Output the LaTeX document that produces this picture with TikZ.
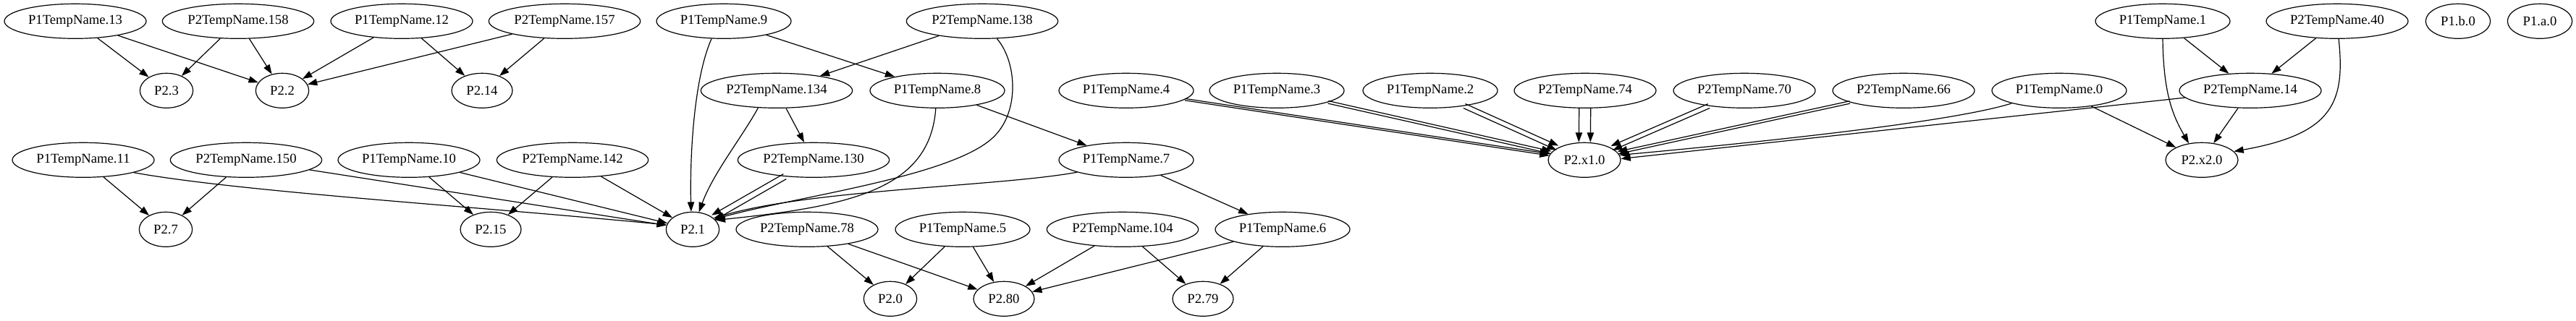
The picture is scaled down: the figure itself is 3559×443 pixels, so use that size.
\documentclass[tikz,border=0pt]{standalone}
\usepackage{fontspec}
\setmainfont{Liberation Serif}
\usetikzlibrary{arrows.meta,shapes.geometric}
\begin{document}
\begin{tikzpicture}[x=0.75pt,y=-0.75pt,
  nd/.style={ellipse,draw,line width=0.9pt,inner sep=0pt,minimum height=36pt,font=\fontsize{14pt}{16pt}\selectfont},
  wA/.style={nd,minimum width=139.5pt},
  wB/.style={nd,minimum width=147pt},
  wC/.style={nd,minimum width=157pt},
  wS/.style={nd,minimum width=55pt},
  wM/.style={nd,minimum width=63pt},
  wX/.style={nd,minimum width=75pt},
  wP/.style={nd,minimum width=67pt},
  arr/.style={draw,line width=0.9pt,-{Triangle[length=10pt,width=7pt]}}]
\useasboundingbox (0,0) rectangle (3559,443);
% row 1
\node[wB] (a13) at (104,29.3) {P1TempName.13};
\node[wC] (b158) at (329,29.3) {P2TempName.158};
\node[wB] (a12) at (555,29.3) {P1TempName.12};
\node[wC] (b157) at (780,29.3) {P2TempName.157};
\node[wA] (a9) at (1000,29.3) {P1TempName.9};
\node[wC] (b138) at (1357,29.3) {P2TempName.138};
\node[wA] (a1) at (2988,29.3) {P1TempName.1};
\node[wB] (b40) at (3229,29.3) {P2TempName.40};
\node[wP] (p1b) at (3396,29.3) {P1.b.0};
\node[wP] (p1a) at (3509,29.3) {P1.a.0};
% row 2
\node[wS] (p23) at (230,125.3) {P2.3};
\node[wS] (p22) at (390,125.3) {P2.2};
\node[wM] (p214) at (666,125.3) {P2.14};
\node[wC] (b134) at (1073,125.3) {P2TempName.134};
\node[wA] (a8) at (1295,125.3) {P1TempName.8};
\node[wA] (a4) at (1556,125.3) {P1TempName.4};
\node[wA] (a3) at (1764,125.3) {P1TempName.3};
\node[wA] (a2) at (1976,125.3) {P1TempName.2};
\node[wB] (b74) at (2190,125.3) {P2TempName.74};
\node[wB] (b70) at (2410,125.3) {P2TempName.70};
\node[wB] (b66) at (2630,125.3) {P2TempName.66};
\node[wA] (a0) at (2845,125.3) {P1TempName.0};
\node[wB] (b14) at (3109,125.3) {P2TempName.14};
% row 3
\node[wB] (a11) at (115,221.3) {P1TempName.11};
\node[wC] (b150) at (340,221.3) {P2TempName.150};
\node[wB] (a10) at (565,221.3) {P1TempName.10};
\node[wC] (b142) at (791,221.3) {P2TempName.142};
\node[wC] (b130) at (1124,221.3) {P2TempName.130};
\node[wA] (a7) at (1556,221.3) {P1TempName.7};
\node[wX] (px1) at (2189,221.3) {P2.x1.0};
\node[wX] (px2) at (3042,221.3) {P2.x2.0};
% row 4
\node[wS] (p27) at (229,317.3) {P2.7};
\node[wM] (p215) at (678,317.3) {P2.15};
\node[wS] (p21) at (957,317.3) {P2.1};
\node[wB] (b78) at (1115,317.3) {P2TempName.78};
\node[wA] (a5) at (1330,317.3) {P1TempName.5};
\node[wC] (b104) at (1551,317.3) {P2TempName.104};
\node[wA] (a6) at (1772,317.3) {P1TempName.6};
% row 5
\node[wS] (p20) at (1230,413.3) {P2.0};
\node[wM] (p280) at (1387,413.3) {P2.80};
\node[wM] (p279) at (1662,413.3) {P2.79};
% straight edges
\draw[arr] (a13) -- (p23);
\draw[arr] (a13) -- (p22);
\draw[arr] (b158) -- (p23);
\draw[arr] (b158) -- (p22);
\draw[arr] (a12) -- (p22);
\draw[arr] (a12) -- (p214);
\draw[arr] (b157) -- (p22);
\draw[arr] (b157) -- (p214);
\draw[arr] (a11) -- (p27);
\draw[arr] (b150) -- (p27);
\draw[arr] (b150) -- (p21);
\draw[arr] (a10) -- (p215);
\draw[arr] (a10) -- (p21);
\draw[arr] (b142) -- (p215);
\draw[arr] (b142) -- (p21);
\draw[arr] (a9) -- (a8);
\draw[arr] (b138) -- (b134);
\draw[arr] (b134) -- (b130);
\draw[arr] (a8) -- (a7);
\draw[arr] (a7) -- (a6);
\draw[arr] (b78) -- (p20);
\draw[arr] (b78) -- (p280);
\draw[arr] (a5) -- (p20);
\draw[arr] (a5) -- (p280);
\draw[arr] (b104) -- (p280);
\draw[arr] (b104) -- (p279);
\draw[arr] (a6) -- (p280);
\draw[arr] (a6) -- (p279);
\draw[arr] (a1) -- (b14);
\draw[arr] (b40) -- (b14);
\draw[arr] (b14) -- (px2);
\draw[arr] (a0) -- (px2);
\draw[arr] (b14) -- (px1.2);
% curved edges
\draw[arr] (a11.-14) .. controls (330,265) and (650,285) .. (p21.170);
\draw[arr] (a9.-125) .. controls (958,110) and (953,220) .. (p21.95);
\draw[arr] (b134.-137) .. controls (1025,190) and (985,240) .. (p21.70);
\draw[arr] (a8.-95) .. controls (1285,260) and (1180,285) .. (p21.22);
\draw[arr] (b138.-50) .. controls (1405,85) and (1410,157) .. (1370,192) .. controls (1310,245) and (1100,272) .. (p21.25);
\draw[arr] (a7.-166) .. controls (1380,258) and (1120,262) .. (p21.28);
\draw[arr] (a1.south) .. controls (2989,130) and (3002,160) .. (px2.128);
\draw[arr] (b40.-85) .. controls (3240,140) and (3225,185) .. (px2.15);
\draw[arr] (a0.-165) .. controls (2700,168) and (2450,195) .. (px1.8);
% double edges
\draw[arr,transform canvas={shift={(0.135pt,0.89pt)}}] (a4) -- (px1);
\draw[arr,transform canvas={shift={(-0.135pt,-0.89pt)}}] (a4) -- (px1);
\draw[arr,transform canvas={shift={(0.29pt,1.29pt)}}] (a3) -- (px1);
\draw[arr,transform canvas={shift={(-0.29pt,-1.29pt)}}] (a3) -- (px1);
\draw[arr,transform canvas={shift={(1.01pt,2.25pt)}}] (a2) -- (px1);
\draw[arr,transform canvas={shift={(-1.01pt,-2.25pt)}}] (a2) -- (px1);
\draw[arr,transform canvas={shift={(6pt,0pt)}}] (b74) -- (px1);
\draw[arr,transform canvas={shift={(-6pt,0pt)}}] (b74) -- (px1);
\draw[arr,transform canvas={shift={(0.95pt,-2.19pt)}}] (b70) -- (px1);
\draw[arr,transform canvas={shift={(-0.95pt,2.19pt)}}] (b70) -- (px1);
\draw[arr,transform canvas={shift={(0.27pt,-1.25pt)}}] (b66) -- (px1);
\draw[arr,transform canvas={shift={(-0.27pt,1.25pt)}}] (b66) -- (px1);
\draw[arr,transform canvas={shift={(1.49pt,-2.6pt)}}] (b130) -- (p21);
\draw[arr,transform canvas={shift={(-1.49pt,2.6pt)}}] (b130) -- (p21);
\end{tikzpicture}
\end{document}
